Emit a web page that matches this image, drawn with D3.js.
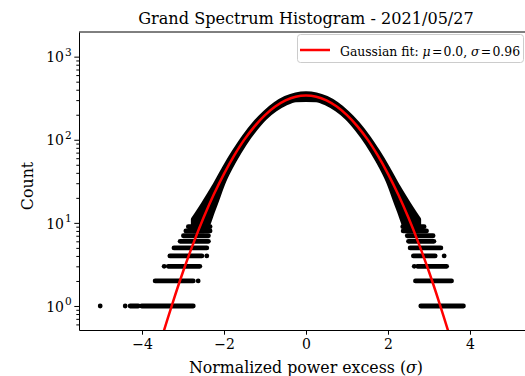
<!DOCTYPE html>
<html>
<head>
<meta charset="utf-8">
<script src="https://cdn.jsdelivr.net/npm/d3@7"></script>
<style>
body{margin:0;background:#fff;}
svg{display:block;}
text{font-family:"DejaVu Serif",serif;}
</style>
</head>
<body>
<svg></svg>
<script>
const canvasWidth=525;
const canvasHeight=376;
const plotLeft=79, plotRight=533, plotTop=32, plotBottom=330;
const dotSize=4.8;

// red gaussian fit
const fitX=[-3.75,-3.5,-3.25,-3,-2.75,-2.5,-2.25,-2,-1.75,-1.5,-1.25,-1,-0.75,-0.5,-0.25,0,
    0.25,0.5,0.75,1,1.25,1.5,1.75,2,2.25,2.5,2.75,3,3.25,3.5,3.75];
const fitCount=[0.166,0.443,1.10,2.58,5.63,11.5,21.9,38.9,64.8,101,146,198,251,298,330,341,
    330,298,251,198,146,101,64.8,38.9,21.9,11.5,5.63,2.58,1.10,0.443,0.166];

// dense middle of the histogram: top and bottom of the dot cloud
const bandX=[-2.75,-2.5,-2.25,-2,-1.75,-1.5,-1.25,-1,-0.75,-0.5,-0.25,0,
    0.25,0.5,0.75,1,1.25,1.5,1.75,2,2.25,2.5,2.75];
const bandHi=[11,17,27,45,72,110,158,212,268,316,348,358,348,316,268,212,158,110,72,45,27,17,11];
const bandLo=[8,8,15,32,56,90,133,184,232,274,302,304,302,274,232,184,133,90,56,32,15,8,8];

// sparse tails: [count, first x, last x] of each horizontal run of dots
const tailRuns=[
    [1,-5.02,-5.02],[1,-4.41,-4.41],[1,-4.29,-4.09],[1,-4.01,-2.75],
    [2,-3.68,-2.75],[2,-2.63,-2.63],
    [3,-3.46,-3.46],[3,-3.36,-2.59],
    [4,-3.32,-2.54],[4,-2.42,-2.42],
    [5,-3.22,-2.42],
    [6,-3.07,-2.38],
    [7,-2.99,-2.38],
    [8,-2.93,-2.34],
    [9,-2.87,-2.34],
    [1,2.80,3.84],
    [2,2.67,3.55],
    [3,2.64,2.64],[3,2.72,3.43],
    [4,2.62,3.15],[4,3.37,3.37],
    [5,2.54,3.29],
    [6,2.50,3.12],
    [7,2.47,3.10],
    [8,2.37,2.94],
    [9,2.36,2.88]
];

const xTicks=[-4,-2,0,2,4];
const yTicks=[1,10,100,1000];
const yTickPowers=["0","1","2","3"];

var svg=d3.select("svg").attr("width",canvasWidth).attr("height",canvasHeight);

var x=d3.scaleLinear().domain([-5.537,5.537]).range([plotLeft,plotRight]);
var y=d3.scaleLog().domain([0.514,1980]).range([plotBottom,plotTop]);

svg.append("clipPath").attr("id","plotClip")
    .append("rect")
    .attr("x",plotLeft).attr("y",plotTop)
    .attr("width",plotRight-plotLeft).attr("height",plotBottom-plotTop);

var plot=svg.append("g").attr("clip-path","url(#plotClip)");

// dense cloud of dots
var bandData=bandX.map(function(d,i){return {x:d,hi:bandHi[i],lo:bandLo[i]};});
plot.append("path")
    .datum(bandData)
    .attr("d",d3.area()
        .x(function(d){return x(d.x);})
        .y0(function(d){return y(d.lo);})
        .y1(function(d){return y(d.hi);})
        .curve(d3.curveMonotoneX))
    .style("fill","black")
    .style("stroke","black")
    .style("stroke-width",dotSize)
    .style("stroke-linejoin","round");

// runs of dots in the tails
plot.selectAll(".run").data(tailRuns.filter(function(d){return d[1]!=d[2];}))
    .enter().append("line")
    .attr("class","run")
    .attr("x1",function(d){return x(d[1]);})
    .attr("x2",function(d){return x(d[2]);})
    .attr("y1",function(d){return y(d[0]);})
    .attr("y2",function(d){return y(d[0]);})
    .style("stroke","black")
    .style("stroke-width",dotSize)
    .style("stroke-linecap","round");

plot.selectAll(".dot").data(tailRuns.filter(function(d){return d[1]==d[2];}))
    .enter().append("circle")
    .attr("class","dot")
    .attr("cx",function(d){return x(d[1]);})
    .attr("cy",function(d){return y(d[0]);})
    .attr("r",dotSize/2)
    .style("fill","black");

// gaussian fit
plot.append("path")
    .datum(fitX.map(function(d,i){return [d,fitCount[i]];}))
    .attr("d",d3.line()
        .x(function(d){return x(d[0]);})
        .y(function(d){return y(d[1]);})
        .curve(d3.curveCatmullRom))
    .style("fill","none")
    .style("stroke","#ff0000")
    .style("stroke-width",2.5);

// axes
var xAxis=svg.append("g")
    .attr("transform","translate(0,"+plotBottom+")")
    .call(d3.axisBottom(x).tickValues(xTicks).tickSize(4.7).tickSizeOuter(0).tickPadding(4));
xAxis.selectAll("text").style("font-size","14px").attr("fill","black");

var minorTicks=y.ticks().filter(function(d){return yTicks.indexOf(d)<0;});
svg.append("g")
    .attr("transform","translate("+plotLeft+",0)")
    .call(d3.axisLeft(y).tickValues(minorTicks).tickSize(2.7).tickSizeOuter(0).tickFormat(""))
    .select(".domain").remove();

var yAxis=svg.append("g")
    .attr("transform","translate("+plotLeft+",0)")
    .call(d3.axisLeft(y).tickValues(yTicks).tickSize(4.7).tickSizeOuter(0).tickFormat(""));
yAxis.selectAll(".tick").each(function(d,i){
    var t=d3.select(this).append("text")
        .attr("x",-7.3).attr("y",5.2)
        .attr("text-anchor","end")
        .attr("fill","black")
        .style("font-size","14px");
    t.append("tspan").text("10");
    t.append("tspan").attr("dx",1).attr("dy",-6.8).style("font-size","10.5px").text(yTickPowers[i]);
});

svg.selectAll(".domain,.tick line").style("stroke","black").style("stroke-width",1);

svg.append("line")
    .attr("x1",plotLeft).attr("x2",plotRight)
    .attr("y1",plotTop).attr("y2",plotTop)
    .style("stroke","black").style("stroke-width",1);
svg.append("line")
    .attr("x1",plotRight).attr("x2",plotRight)
    .attr("y1",plotTop).attr("y2",plotBottom)
    .style("stroke","black").style("stroke-width",1);

// labels
svg.append("text")
    .attr("x",(plotLeft+plotRight)/2).attr("y",24)
    .attr("text-anchor","middle")
    .style("font-size","16.1px")
    .text("Grand Spectrum Histogram - 2021/05/27");

var xl=svg.append("text")
    .attr("x",(plotLeft+plotRight)/2).attr("y",372.5)
    .attr("text-anchor","middle")
    .style("font-size","15.8px");
xl.append("tspan").text("Normalized power excess (");
xl.append("tspan").style("font-style","italic").text("σ");
xl.append("tspan").text(")");

svg.append("text")
    .attr("transform","translate(33,186) rotate(-90)")
    .attr("text-anchor","middle")
    .style("font-size","15.8px")
    .text("Count");

// legend
var legend=svg.append("g");
legend.append("rect")
    .attr("x",297.5).attr("y",34.5)
    .attr("width",226).attr("height",28)
    .attr("rx",3)
    .style("fill","white").style("fill-opacity",0.8)
    .style("stroke","#cccccc").style("stroke-width",1);
legend.append("line")
    .attr("x1",300).attr("x2",330).attr("y1",50).attr("y2",50)
    .style("stroke","#ff0000").style("stroke-width",2.5);
var lt=legend.append("text")
    .attr("x",340).attr("y",55.5)
    .style("font-size","12.4px");
lt.append("tspan").text("Gaussian fit: ");
lt.append("tspan").style("font-style","italic").text("μ");
lt.append("tspan").text("\u200a=\u200a0.0, ");
lt.append("tspan").style("font-style","italic").text("σ");
lt.append("tspan").text("\u200a=\u200a0.96");
</script>
</body>
</html>
